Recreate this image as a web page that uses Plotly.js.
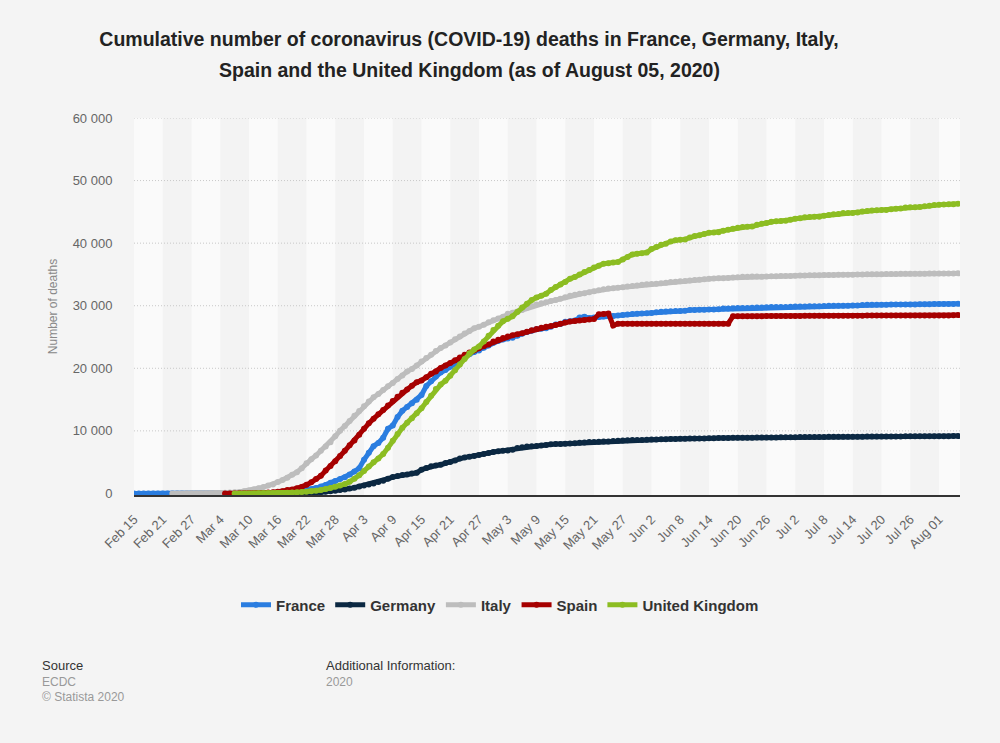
<!DOCTYPE html>
<html>
<head>
<meta charset="utf-8">
<script src="https://cdn.plot.ly/plotly-3.0.1.min.js"></script>
<style>
  html, body { margin: 0; padding: 0; background: #f4f4f4; }
  #chart { width: 1000px; height: 743px; }
</style>
</head>
<body>
<div id="chart"></div>
<script>
// ---- Data (cumulative deaths, daily) ----
const franceStart = '2020-02-15';
const france = [
  1,1,1,1,1,1,1,1,1,1,1,2,2,2,2,
  2,2,3,4,4,7,9,11,19,19,33,48,61,79,91,127,148,175,264,372,450,562,674,860,1100,1331,1696,1995,2314,2606,3024,
  3523,4032,5387,6507,7560,8078,8911,10328,10869,12210,13197,13832,14393,14967,15729,17167,17920,18681,19323,19718,20265,20796,21340,21856,22245,22614,22856,23293,23660,24087,
  24376,24594,24760,24895,25201,25531,25809,25987,26230,26310,26380,26643,26991,27074,27425,27529,27625,28108,28239,28022,28132,28215,28289,28332,28367,28432,28530,28596,28662,28714,28771,
  28802,28833,28940,29021,29065,29111,29142,29155,29209,29296,29319,29346,29374,29398,29407,29436,29547,29575,29603,29617,29633,29640,29663,29720,29731,29752,29778,29778,29781,29813,
  29843,29861,29875,29893,29896,29920,29933,29965,29979,29982,30004,30004,30007,30029,30029,30120,30138,30152,30155,30155,30165,30177,30182,30192,30195,30209,30209,30223,30238,30254,30265,
  30268,30268,30268,30294,30296
];
const germanyStart = '2020-03-09';
const germany = [
  2,2,3,3,7,9,11,17,24,28,44,67,84,94,123,157,206,267,342,433,533,645,775,
  920,1107,1275,1444,1584,1810,2016,2349,2607,2767,2947,3022,3194,3294,3804,4052,4352,4459,4586,4862,5033,5279,5575,5760,5877,5976,6126,6314,6467,6623,
  6736,6812,6866,6993,7275,7392,7510,7549,7569,7661,7738,7861,7884,7897,7938,7962,8003,8081,8144,8203,8228,8261,8283,8309,8372,8428,8470,8504,8530,8540,8555,
  8563,8602,8635,8658,8673,8685,8695,8736,8752,8772,8783,8787,8791,8800,8830,8851,8856,8875,8882,8883,8887,8895,8914,8927,8940,8948,8954,8955,8968,8985,
  8990,8995,9003,9010,9010,9016,9024,9036,9048,9057,9060,9061,9063,9068,9071,9078,9084,9087,9089,9090,9094,9101,9111,9118,9122,9124,9124,9128,9135,9141,9147,
  9154,9154,9156,9163,9168
];
const italyStart = '2020-02-23';
const italy = [
  2,3,7,10,12,17,21,
  29,34,52,79,107,148,197,233,366,463,631,827,1016,1266,1441,1809,2158,2503,2978,3405,4032,4825,5476,6077,6820,7503,8165,9134,10023,10779,11591,
  12428,13155,13915,14681,15362,15887,16523,17127,17669,18279,18849,19468,19899,20465,21067,21645,22170,22745,23227,23660,24114,24648,25085,25549,25969,26384,26644,26977,27359,27682,
  27967,28236,28710,28884,29079,29315,29684,29958,30201,30395,30560,30739,30911,31106,31368,31610,31763,31908,32007,32169,32330,32486,32616,32735,32785,32877,32955,33072,33142,33229,33340,
  33415,33475,33530,33601,33689,33774,33846,33899,33964,34043,34114,34167,34223,34301,34345,34371,34405,34448,34514,34561,34610,34634,34657,34675,34644,34678,34708,34716,34738,34744,
  34767,34788,34818,34833,34854,34861,34869,34899,34914,34926,34938,34945,34954,34967,34984,34997,35017,35028,35042,35045,35058,35073,35082,35092,35097,35102,35107,35112,35123,35129,35132,
  35141,35146,35154,35166,35171
];
const spainStart = '2020-03-05';
const spain = [
  2,3,5,10,17,28,35,54,55,133,195,289,342,533,623,830,1043,1375,1772,2311,2808,3647,4365,5138,5982,6803,7716,
  8464,9387,10348,11198,11947,12641,13341,14045,14792,15447,16081,16606,17209,17756,18056,18579,19130,19478,20043,20453,20852,21282,21717,22157,22524,22902,23190,23521,23822,24275,
  24543,24824,25100,25264,25428,25613,25857,26070,26299,26478,26621,26744,26920,27104,27321,27459,27563,27650,27709,27778,27888,28628,28678,28752,26834,27117,27118,27119,27121,27125,27127,
  27127,27127,27127,27128,27133,27134,27135,27136,27136,27136,27136,27136,27136,27136,27136,27136,27136,27136,28315,28315,28322,28324,28325,28327,28330,28341,28341,28343,28346,28346,
  28355,28363,28368,28385,28385,28388,28392,28396,28401,28403,28403,28403,28406,28409,28413,28416,28420,28422,28422,28422,28424,28426,28429,28432,28432,28432,28432,28436,28441,28443,28445,
  28445,28445,28445,28472,28498
];
const ukStart = '2020-03-07';
const uk = [
  2,3,4,6,8,10,21,21,35,55,71,104,144,177,233,281,335,422,550,700,850,1050,1250,1500,1850,
  2350,2900,3600,4300,5000,5600,6300,7300,8400,9500,10500,11300,12000,12800,13600,14600,15600,16700,17400,18000,18800,19700,20600,21500,22400,23000,23500,24300,25200,26100,
  26800,27500,27900,28300,29000,29700,30300,30900,31300,31600,31900,32500,33000,33400,33800,34300,34600,35000,35400,35700,36100,36400,36700,36800,36900,37000,37400,37800,38200,38300,38400,
  38489,39045,39369,39728,39904,40261,40465,40542,40597,40883,41128,41279,41481,41662,41698,41736,41969,42153,42288,42461,42589,42632,42647,42927,43081,43230,43414,43514,43550,43575,
  43730,43906,43995,44131,44198,44220,44236,44391,44517,44602,44650,44798,44819,44830,44915,45053,45119,45233,45273,45300,45312,45422,45501,45554,45677,45738,45752,45759,45878,45961,46084,
  46119,46193,46201,46210,46299
];

const seriesNames = ['France', 'Germany', 'Italy', 'Spain', 'United Kingdom'];
const seriesColors = ['#2a7de0', '#0b2842', '#bdbdbd', '#a60000', '#8cbd22'];

const xTickDates = ['2020-02-15','2020-02-21','2020-02-27','2020-03-04','2020-03-10','2020-03-16','2020-03-22','2020-03-28',
  '2020-04-03','2020-04-09','2020-04-15','2020-04-21','2020-04-27','2020-05-03','2020-05-09','2020-05-15','2020-05-21',
  '2020-05-27','2020-06-02','2020-06-08','2020-06-14','2020-06-20','2020-06-26','2020-07-02','2020-07-08','2020-07-14',
  '2020-07-20','2020-07-26','2020-08-01'];
const xTickLabels = ['Feb 15','Feb 21','Feb 27','Mar 4','Mar 10','Mar 16','Mar 22','Mar 28','Apr 3','Apr 9','Apr 15',
  'Apr 21','Apr 27','May 3','May 9','May 15','May 21','May 27','Jun 2','Jun 8','Jun 14','Jun 20','Jun 26','Jul 2',
  'Jul 8','Jul 14','Jul 20','Jul 26','Aug 01'];
const yTickValues = [0, 10000, 20000, 30000, 40000, 50000, 60000];
const yTickLabels = ['0', '10 000', '20 000', '30 000', '40 000', '50 000', '60 000'];

const titleLine1 = 'Cumulative number of coronavirus (COVID-19) deaths in France, Germany, Italy,';
const titleLine2 = 'Spain and the United Kingdom (as of August 05, 2020)';
const xRangeEnd = '2020-08-05 09:00';

// ---- helpers ----
function dailyDates(startIso, n) {
  const out = [];
  const t0 = Date.parse(startIso + 'T00:00:00Z');
  for (let i = 0; i < n; i++) {
    out.push(new Date(t0 + i * 86400000).toISOString().slice(0, 10));
  }
  return out;
}

const allSeries = [
  [france, franceStart], [germany, germanyStart], [italy, italyStart], [spain, spainStart], [uk, ukStart]
];

const traces = allSeries.map(([vals, start], i) => ({
  type: 'scatter',
  mode: 'lines+markers',
  name: seriesNames[i],
  x: dailyDates(start, vals.length),
  y: vals,
  line: { color: seriesColors[i], width: 5 },
  marker: { color: seriesColors[i], size: 6 },
  hoverinfo: 'x+y+name'
}));

// plot area in pixels
const PL = 134, PR = 960, PT = 118, PB = 495;
const px2paperX = px => (px - PL) / (PR - PL);
const px2paperY = py => (PB - py) / (PB - PT);

// alternating vertical bands between ticks
const shapes = [];
for (let i = 0; i < xTickDates.length; i += 2) {
  shapes.push({
    type: 'rect', layer: 'below', xref: 'x', yref: 'paper',
    x0: xTickDates[i], x1: (i + 1 < xTickDates.length) ? xTickDates[i + 1] : xRangeEnd,
    y0: 0, y1: 1, line: { width: 0 }, fillcolor: '#fafafa'
  });
}
// dotted horizontal grid lines
yTickValues.filter(v => v > 0).forEach(v => {
  shapes.push({
    type: 'line', layer: 'below', xref: 'paper', yref: 'y',
    x0: 0, x1: 1, y0: v, y1: v,
    line: { color: '#c8c8c8', width: 1, dash: '1px,2px' }
  });
});

const titleFont = { family: 'Liberation Sans, Arial, sans-serif', size: 19.5, color: '#222222', weight: 'bold' };
const footFont = { family: 'Liberation Sans, Arial, sans-serif', size: 12, color: '#999999' };
const footHead = { family: 'Liberation Sans, Arial, sans-serif', size: 13, color: '#333333' };
const annotations = [
  { text: titleLine2, x: px2paperX(469), y: px2paperY(70), xanchor: 'center', font: titleFont },
  { text: 'Source', x: px2paperX(40), y: px2paperY(665), font: footHead },
  { text: 'ECDC', x: px2paperX(40), y: px2paperY(682), font: footFont },
  { text: '© Statista 2020', x: px2paperX(40), y: px2paperY(697), font: footFont },
  { text: 'Additional Information:', x: px2paperX(324), y: px2paperY(665), font: footHead },
  { text: '2020', x: px2paperX(324), y: px2paperY(682), font: footFont }
].map(a => Object.assign({ xref: 'paper', yref: 'paper', xanchor: 'left', yanchor: 'middle', showarrow: false }, a));

const layout = {
  width: 1000, height: 743,
  paper_bgcolor: '#f4f4f4',
  plot_bgcolor: '#f3f3f3',
  margin: { l: PL, r: 1000 - PR, t: PT, b: 743 - PB, pad: 0 },
  font: { family: 'Liberation Sans, Arial, sans-serif', color: '#666666' },
  title: {
    text: titleLine1,
    font: titleFont,
    xref: 'container', yref: 'container',
    x: 0.469, xanchor: 'center',
    y: 1 - 39 / 743, yanchor: 'middle'
  },
  xaxis: {
    type: 'date',
    range: [xTickDates[0], xRangeEnd],
    tickvals: xTickDates,
    ticktext: xTickLabels,
    tickangle: -45,
    ticks: 'outside', ticklen: 10, tickcolor: 'rgba(0,0,0,0)',
    tickfont: { size: 13, color: '#666666' },
    showgrid: false, zeroline: false,
    showline: true, linecolor: '#333333', linewidth: 1.5,
    automargin: false, fixedrange: true
  },
  yaxis: {
    range: [-250, 60000],
    tickvals: yTickValues,
    ticktext: yTickLabels,
    ticks: 'outside', ticklen: 18, tickcolor: 'rgba(0,0,0,0)',
    tickfont: { size: 13, color: '#666666' },
    showgrid: false, zeroline: false, showline: false,
    title: { text: 'Number of deaths', font: { size: 12, color: '#888888' }, standoff: 12 },
    automargin: false, fixedrange: true
  },
  legend: {
    orientation: 'h',
    xref: 'container', yref: 'container',
    x: 0.5, xanchor: 'center',
    y: 1 - 605 / 743, yanchor: 'middle',
    font: { size: 15, color: '#333333', weight: 'bold' },
    bgcolor: 'rgba(0,0,0,0)',
    itemwidth: 30
  },
  showlegend: true,
  shapes: shapes,
  annotations: annotations,
  hovermode: 'closest'
};

Plotly.newPlot('chart', traces, layout, { displayModeBar: false });
</script>
</body>
</html>
